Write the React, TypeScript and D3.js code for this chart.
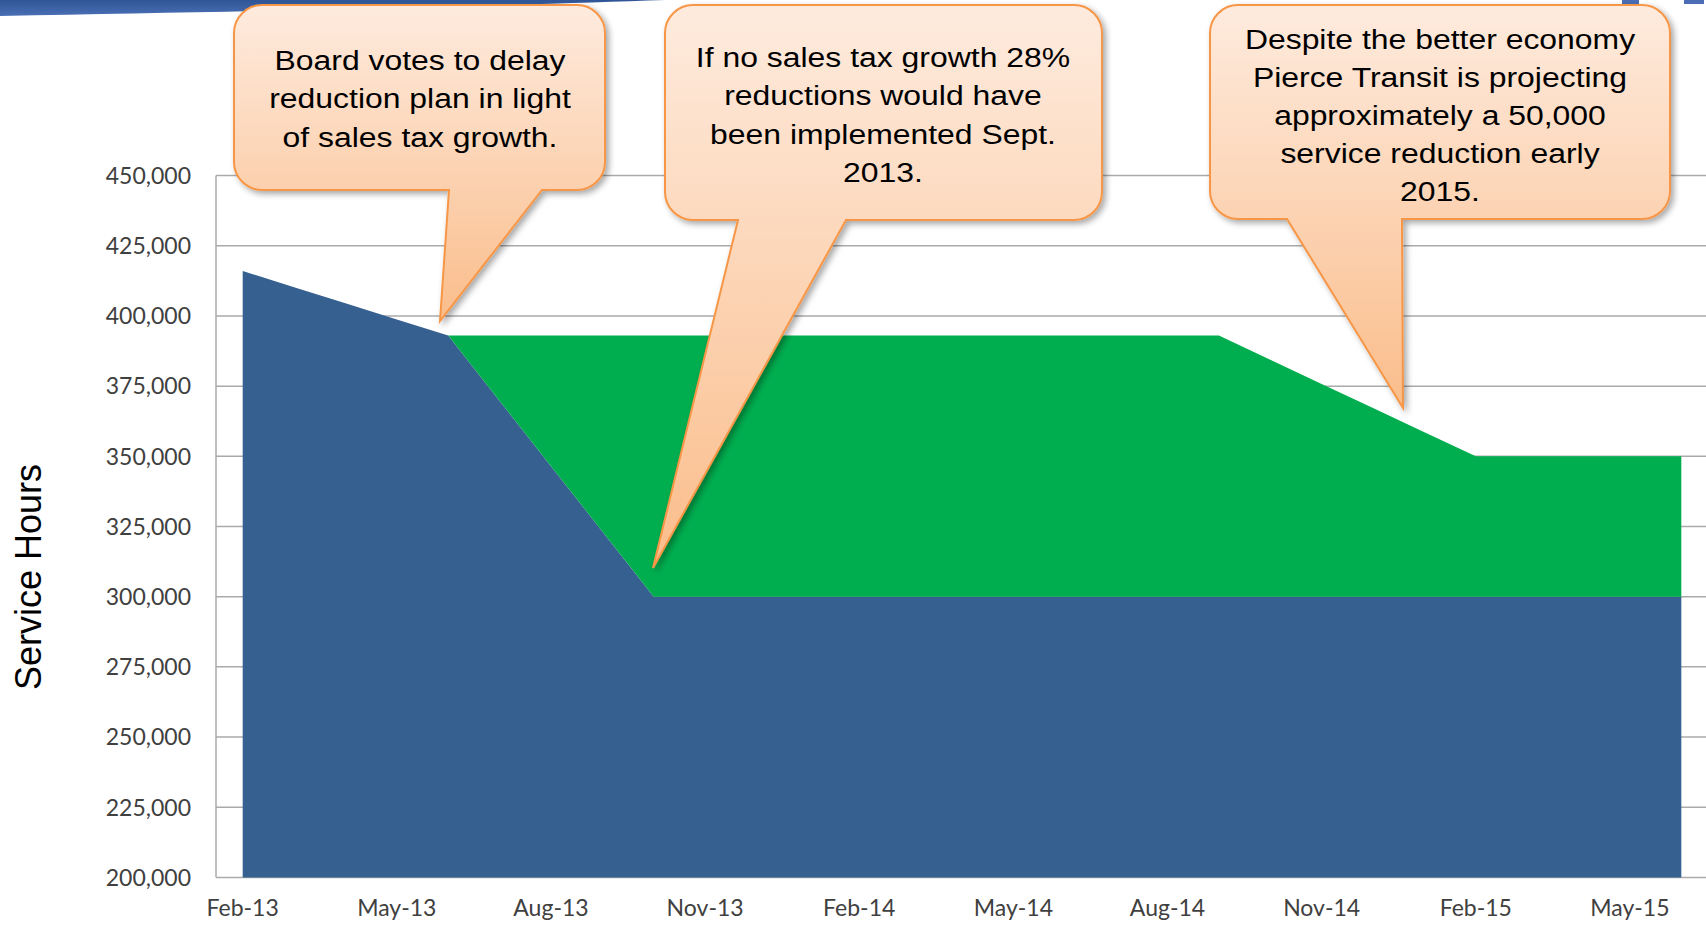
import React from "react";
import { scalePoint, scaleLinear, stack, area, format } from "d3";

// monthly service hours, Feb-13 .. Jun-15
const months = [
  "Feb-13", "Mar-13", "Apr-13", "May-13", "Jun-13", "Jul-13", "Aug-13", "Sep-13", "Oct-13",
  "Nov-13", "Dec-13", "Jan-14", "Feb-14", "Mar-14", "Apr-14", "May-14", "Jun-14", "Jul-14",
  "Aug-14", "Sep-14", "Oct-14", "Nov-14", "Dec-14", "Jan-15", "Feb-15", "Mar-15", "Apr-15",
  "May-15", "Jun-15",
];

// blue: hours with the reduction plan
const reducedHours = [
  416000, 410250, 404500, 398750, 393000, 369750, 346500, 323250, 300000,
  300000, 300000, 300000, 300000, 300000, 300000, 300000, 300000, 300000,
  300000, 300000, 300000, 300000, 300000, 300000, 300000, 300000, 300000,
  300000, 300000,
];

// green: hours kept thanks to sales tax growth (stacked on blue)
const keptHours = [
  0, 0, 0, 0, 0, 23250, 46500, 69750, 93000,
  93000, 93000, 93000, 93000, 93000, 93000, 93000, 93000, 93000,
  93000, 93000, 84400, 75800, 67200, 58600, 50000, 50000, 50000,
  50000, 50000,
];

const yTickValues = [200000, 225000, 250000, 275000, 300000, 325000, 350000, 375000, 400000, 425000, 450000];
const xTickLabels = ["Feb-13", "May-13", "Aug-13", "Nov-13", "Feb-14", "May-14", "Aug-14", "Nov-14", "Feb-15", "May-15"];

const callouts = [
  {
    lines: ["Board votes to delay", "reduction plan in light", "of sales tax growth."],
    box: [234, 5, 605, 190], tail: [449, 542], tip: [440, 321], cx: 420, y0: 70, lh: 38.5,
  },
  {
    lines: ["If no sales tax growth 28%", "reductions would have", "been implemented Sept.", "2013."],
    box: [665, 5, 1102, 220], tail: [738, 846], tip: [653, 568], cx: 883, y0: 67, lh: 38.4,
  },
  {
    lines: ["Despite the better economy", "Pierce Transit is projecting", "approximately a 50,000", "service reduction early", "2015."],
    box: [1210, 5, 1670, 219], tail: [1287, 1402], tip: [1403, 408], cx: 1440, y0: 49, lh: 38,
  },
];

const W = 1706;
const H = 926;
const BLUE = "#36608f";
const GREEN = "#00ae4f";
const GRID = "#aaaaaa";

function calloutPath(c) {
  const [x0, y0, x1, y1] = c.box;
  const r = 28;
  const [bl, br] = c.tail;
  const [tx, ty] = c.tip;
  return `M${x0 + r},${y0} H${x1 - r} A${r},${r} 0 0 1 ${x1},${y0 + r} V${y1 - r} A${r},${r} 0 0 1 ${x1 - r},${y1}
    H${br} L${tx},${ty} L${bl},${y1} H${x0 + r} A${r},${r} 0 0 1 ${x0},${y1 - r} V${y0 + r} A${r},${r} 0 0 1 ${x0 + r},${y0} Z`;
}

export default function App() {
  const x = scalePoint().domain(months).range([217, 1707]).padding(0.5);
  const y = scaleLinear().domain([200000, 450000]).range([877.4, 175.6]).clamp(true);

  const rows = months.map((m, i) => ({ month: m, reduced: reducedHours[i], kept: keptHours[i] }));
  const layers = stack().keys(["reduced", "kept"])(rows);
  const areaGen = area()
    .x((d) => x(d.data.month))
    .y0((d) => y(d[0]))
    .y1((d) => y(d[1]));
  const colors = { reduced: BLUE, kept: GREEN };
  const fmt = format(",");

  return (
    <svg width={W} height={H} style={{ position: "fixed", left: 0, top: 0, display: "block", background: "#fff" }}>
      <defs>
        <linearGradient id="peach" x1="0" y1="0" x2="0" y2="1">
          <stop offset="0" stopColor="#feebde" />
          <stop offset="1" stopColor="#fabd8b" />
        </linearGradient>
        <linearGradient id="banner" x1="0" y1="0" x2="0" y2="1">
          <stop offset="0" stopColor="#2f5597" />
          <stop offset="1" stopColor="#4a6fb5" />
        </linearGradient>
        <filter id="shadow" x="-10%" y="-10%" width="130%" height="130%">
          <feDropShadow dx="3" dy="3" stdDeviation="3" floodColor="#000" floodOpacity="0.35" />
        </filter>
      </defs>

      {/* slide decoration at the top */}
      <path d="M0,0 H665 C520,5 300,11 0,16 Z" fill="url(#banner)" />
      <rect x={1622} y={0} width={17} height={4} fill="#4a6db5" />
      <rect x={1684} y={0} width={20} height={4} fill="#4a6db5" />

      {/* gridlines */}
      {yTickValues.map((t) => (
        <line key={t} x1={216} x2={W} y1={y(t)} y2={y(t)} stroke={GRID} strokeWidth={1.5} />
      ))}
      <line x1={216} x2={216} y1={y(450000)} y2={y(200000)} stroke={GRID} strokeWidth={1.5} />

      {layers.map((layer) => (
        <path key={layer.key} d={areaGen(layer)} fill={colors[layer.key]} />
      ))}

      {/* y tick labels */}
      {yTickValues.map((t) => (
        <text key={t} x={191} y={y(t)} dy="0.36em" textAnchor="end"
          fontFamily="Lato, 'Open Sans', sans-serif" fontSize={23} fill="#404040">
          {fmt(t)}
        </text>
      ))}

      {/* x tick labels */}
      {xTickLabels.map((m) => (
        <text key={m} x={x(m)} y={916} textAnchor="middle"
          fontFamily="Lato, 'Open Sans', sans-serif" fontSize={23} fill="#404040">
          {m}
        </text>
      ))}

      <text transform="translate(41,577) rotate(-90)" textAnchor="middle"
        fontFamily="'Liberation Sans', Arial, sans-serif" fontSize={36} fill="#000">
        Service Hours
      </text>

      {/* callouts */}
      {callouts.map((c, i) => (
        <g key={i}>
          <path d={calloutPath(c)} fill="url(#peach)" stroke="#f79646" strokeWidth={2} filter="url(#shadow)" />
          <g transform={`translate(${c.cx},0) scale(1.14,1)`}>
            {c.lines.map((l, j) => (
              <text key={j} x={0} y={c.y0 + j * c.lh} textAnchor="middle"
                fontFamily="'Liberation Sans', Arial, sans-serif" fontSize={28} fill="#000">
                {l}
              </text>
            ))}
          </g>
        </g>
      ))}
    </svg>
  );
}
